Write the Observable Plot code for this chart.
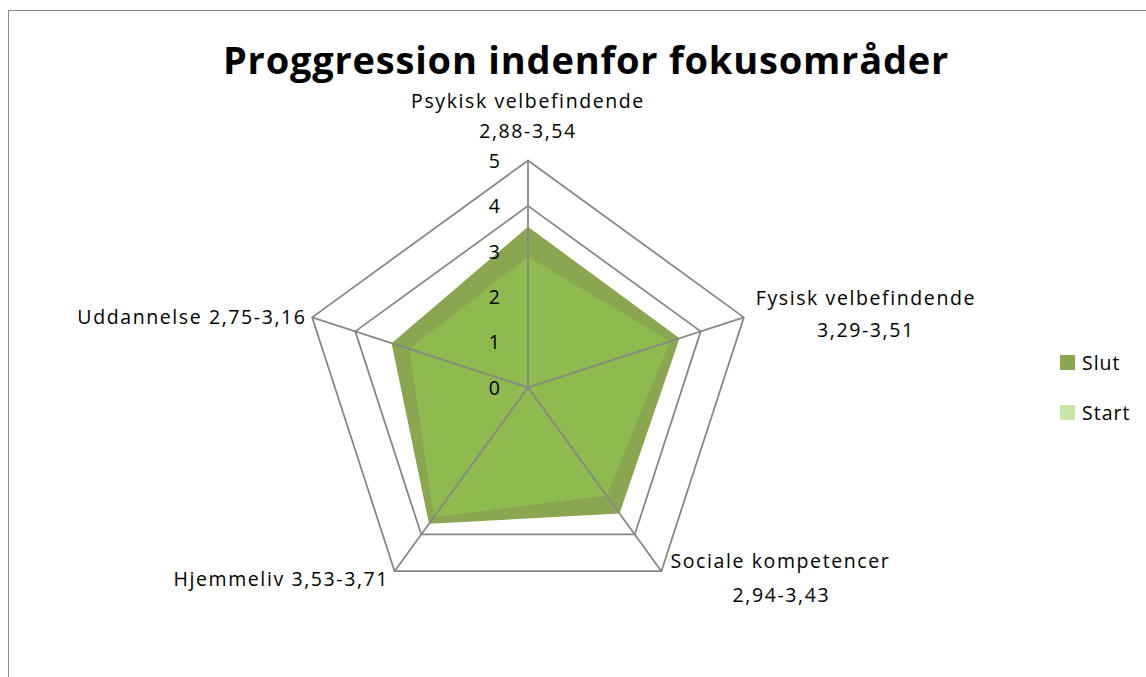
<!DOCTYPE html>
<html>
<head>
<meta charset="utf-8">
<script src="https://cdn.jsdelivr.net/npm/d3@7"></script>
<script src="https://cdn.jsdelivr.net/npm/@observablehq/plot@0.6"></script>
<style>
  html, body { margin: 0; padding: 0; background: #fff; }
  #wrap { position: relative; width: 1146px; height: 677px; overflow: hidden; font-family: "Open Sans", Lato, sans-serif; }
  #frame { position: absolute; left: 8px; top: 10px; width: 2000px; height: 2000px; border-left: 1.5px solid #8c8c8c; border-top: 1.5px solid #8c8c8c; }
  #title { position: absolute; left: 0; width: 1172px; top: 37px; text-align: center; font-weight: bold; font-size: 38px; letter-spacing: 0.8px; color: #000; line-height: 1.2; white-space: nowrap; }
  #chart { position: absolute; left: 0; top: 0; }
  .leg { position: absolute; left: 1060px; font-size: 19.5px; letter-spacing: 1px; color: #000; display: flex; align-items: center; }
  .sw { width: 15px; height: 15px; margin-right: 7px; }
</style>
</head>
<body>
<div id="wrap">
  <div id="frame"></div>
  <div id="chart"></div>
  <div id="title">Proggression indenfor fokusområder</div>
  <div id="legend"></div>
</div>
<script>
const categories = ["Psykisk velbefindende", "Fysisk velbefindende", "Sociale kompetencer", "Hjemmeliv", "Uddannelse"];
const startValues = [2.88, 3.29, 2.94, 3.53, 2.75];
const slutValues = [3.54, 3.51, 3.43, 3.71, 3.16];
const tickValues = [0, 1, 2, 3, 4, 5];
const tickLabels = ["0", "1", "2", "3", "4", "5"];
const labelLines = [
  ["Psykisk velbefindende", "2,88-3,54"],
  ["Fysisk velbefindende", "3,29-3,51"],
  ["Sociale kompetencer", "2,94-3,43"],
  ["Hjemmeliv 3,53-3,71"],
  ["Uddannelse 2,75-3,16"]
];
const seriesNames = ["Slut", "Start"];
const seriesColors = ["#8aa650", "#c8e6aa"];
const startFillColor = "#8eba50";

// layout
const W = 1146, H = 677, cx = 527.5, cy = 387, unit = 45.4, rMax = 5;
const n = categories.length;
const ang = i => (i * 2 * Math.PI) / n;
const pt = (v, i) => ({x: v * Math.sin(ang(i)), y: v * Math.cos(ang(i))});
const poly = vals => {
  const p = vals.map((v, i) => pt(v, i));
  p.push(p[0]);
  return p;
};

const rings = tickValues.filter(t => t > 0).flatMap(t => poly(categories.map(() => t)).map(p => ({...p, ring: t})));
const spokes = categories.map((c, i) => ({x1: 0, y1: 0, ...(({x, y}) => ({x2: x, y2: y}))(pt(rMax, i))}));

// label offsets (pixels) relative to outer vertex
const labelLayout = [
  [{dx: 0, dy: -59, a: "middle"}, {dx: 0, dy: -29, a: "middle"}],
  [{dx: 122, dy: -19, a: "middle"}, {dx: 122, dy: 13, a: "middle"}],
  [{dx: 119, dy: -9, a: "middle"}, {dx: 120, dy: 25, a: "middle"}],
  [{dx: -5.5, dy: 9, a: "end"}],
  [{dx: -5.5, dy: 0, a: "end"}]
];
const labels = labelLines.flatMap((lines, i) => lines.map((t, j) => ({...pt(rMax, i), text: t, ...labelLayout[i][j]})));

const xDomain = [-cx / unit, (W - cx) / unit];
const yDomain = [(cy - H) / unit, cy / unit];

const fontFam = "'Open Sans', Lato, sans-serif";
const chart = Plot.plot({
  width: W, height: H,
  margin: 0,
  x: {domain: xDomain, axis: null},
  y: {domain: yDomain, axis: null},
  style: {fontFamily: fontFam, background: "transparent", letterSpacing: "1.6px"},
  marks: [
    Plot.line(rings, {x: "x", y: "y", z: "ring", stroke: "#868686", strokeWidth: 1.75}),
    Plot.line(poly(slutValues), {x: "x", y: "y", fill: seriesColors[0], stroke: "none"}),
    Plot.line(poly(startValues), {x: "x", y: "y", fill: startFillColor, stroke: "none"}),
    Plot.link(spokes, {x1: "x1", y1: "y1", x2: "x2", y2: "y2", stroke: "#868686", strokeWidth: 1.75}),
    Plot.text(tickValues, {x: () => 0, y: d => d, text: (d, i) => tickLabels[i], textAnchor: "end", dx: -26.5, dy: 1, fontSize: 19.5, fill: "#000"}),
    ...labels.map(l => Plot.text([l], {x: "x", y: "y", text: "text", textAnchor: l.a, dx: l.dx, dy: l.dy, fontSize: 19.5, fill: "#000"}))
  ]
});
document.getElementById("chart").appendChild(chart);

const legend = document.getElementById("legend");
const legendTops = [349, 399];
seriesNames.forEach((name, i) => {
  const d = document.createElement("div");
  d.className = "leg";
  d.style.top = legendTops[i] + "px";
  d.innerHTML = `<div class="sw" style="background:${seriesColors[i]}"></div><span>${name}</span>`;
  legend.appendChild(d);
});
</script>
</body>
</html>
